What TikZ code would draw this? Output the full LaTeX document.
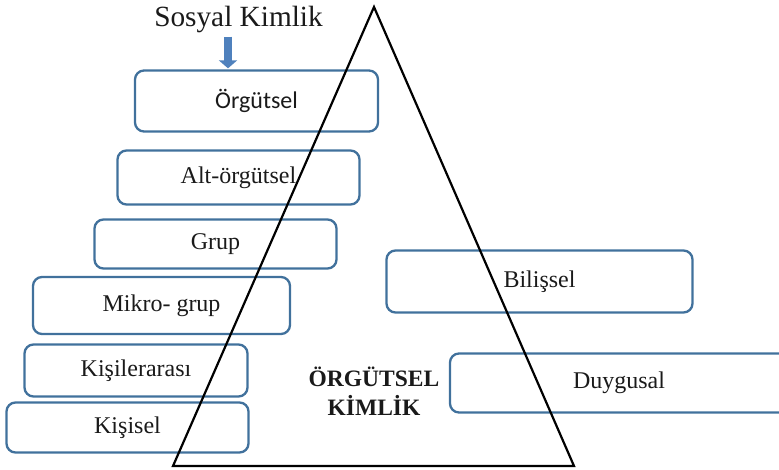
\documentclass[tikz,border=0pt]{standalone}
\usepackage{fontspec}
\setmainfont{Liberation Serif}
\newfontfamily\carlito{Carlito}
\usetikzlibrary{arrows.meta}
\definecolor{boxblue}{HTML}{41719C}
\definecolor{arrowblue}{HTML}{4F81BD}
\definecolor{ink}{HTML}{1A1A1A}
\tikzset{
  levelbox/.style={draw=boxblue, line width=2.3pt, rounded corners=9pt,
    inner sep=0pt, text=ink, font=\fontsize{24}{29}\selectfont},
  tri/.style={draw=black, line width=2.2pt, line join=miter},
  sosyalarrow/.style={draw=arrowblue, line width=8pt,
    -{Triangle[width=18pt,length=8pt]}, shorten <=3pt, shorten >=1pt}
}
\begin{document}
\begin{tikzpicture}[x=1pt, y=-1pt]
  \useasboundingbox (0,0) rectangle (779,470);

  % social identity levels (left stack)
  \node[levelbox, minimum width=243pt, minimum height=61pt, font=\carlito\fontsize{24}{29}\selectfont]
    (org) at (256.5,101) {Örgütsel};
  \node[levelbox, minimum width=242pt, minimum height=54pt] (alt) at (238.5,177.5) {Alt-örgütsel};
  \node[levelbox, minimum width=242pt, minimum height=49pt] (grup) at (215.5,244) {Grup};
  \node[levelbox, minimum width=257pt, minimum height=57pt] (mikro) at (161.5,305.5) {Mikro- grup};
  \node[levelbox, minimum width=223pt, minimum height=52pt] (kisiler) at (136,370.5) {Kişilerarası};
  \node[levelbox, minimum width=242pt, minimum height=50pt] (kisisel) at (127.5,427.5) {Kişisel};

  % dimensions (right)
  \node[levelbox, minimum width=306pt, minimum height=62pt] (bilis) at (539.5,281.5) {Bilişsel};
  \node[levelbox, minimum width=338pt, minimum height=59pt] (duygu) at (619,383) {Duygusal};

  % pyramid
  \coordinate (apex) at (374,7);
  \coordinate (baseL) at (173,466);
  \coordinate (baseR) at (574,466);
  \draw[tri] (apex) -- (baseR) -- (baseL) -- cycle;

  % title of the pyramid
  \node[text=ink, font=\bfseries\fontsize{23.5}{29}\selectfont, align=center, inner sep=0pt]
    (kimlik) at (374,391) {ÖRGÜTSEL\\KİMLİK};

  % social identity heading and its arrow
  \node[text=ink, font=\fontsize{29.3}{35}\selectfont, inner sep=0pt, anchor=base]
    (sosyal) at (238.5,27) {Sosyal Kimlik};
  \coordinate (arrowx) at (228,0);
  \draw[sosyalarrow] (sosyal.south -| arrowx) -- (org.north -| arrowx);
\end{tikzpicture}
\end{document}
